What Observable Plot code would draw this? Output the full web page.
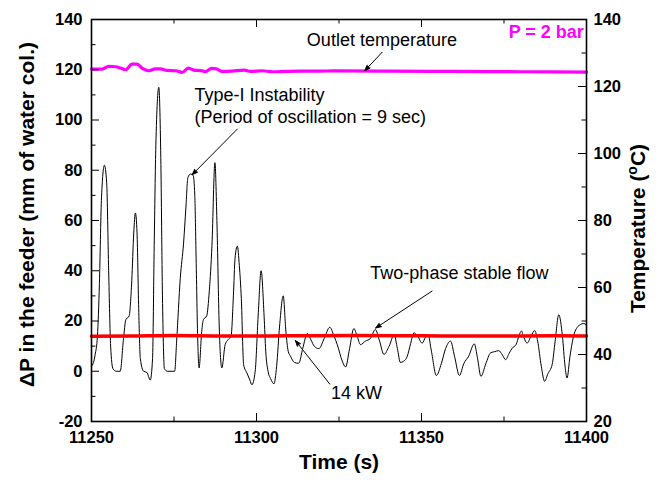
<!DOCTYPE html>
<html><head><meta charset="utf-8">
<script src="https://cdn.jsdelivr.net/npm/d3@7"></script>
<script src="https://cdn.jsdelivr.net/npm/@observablehq/plot@0.6"></script>
<style>
body{margin:0;background:#fff}
svg{font-family:"Liberation Sans",Arial,sans-serif}
</style>
</head><body><div id="chart"></div>
<script>
// ---- data ----
const time = [11250.0,11250.6,11251.1,11251.8,11252.4,11253.0,11253.9,11254.6,11255.2,11255.8,11256.5,11257.5,11258.7,11259.7,11260.4,11261.4,11262.2,11262.8,11263.3,11263.8,11264.3,11264.8,11265.8,11266.8,11267.8,11268.5,11269.0,11269.5,11270.4,11271.0,11271.5,11272.1,11273.0,11275.2,11275.8,11276.9,11277.9,11278.6,11279.2,11280.0,11280.8,11281.3,11281.7,11282.2,11282.6,11283.4,11283.9,11284.9,11285.7,11286.5,11287.4,11288.0,11288.7,11289.5,11290.5,11291.5,11292.3,11293.0,11293.5,11294.2,11294.8,11295.4,11296.1,11297.1,11298.0,11298.6,11299.6,11300.5,11301.4,11302.3,11302.8,11303.5,11304.3,11305.3,11306.1,11307.0,11308.1,11308.9,11309.6,11310.3,11311.5,11312.8,11314.0,11315.4,11316.5,11317.5,11318.9,11320.5,11322.2,11323.5,11324.5,11326.0,11327.0,11328.2,11329.5,11330.5,11331.5,11333.0,11334.5,11336.0,11337.3,11338.6,11340.2,11341.7,11342.7,11343.6,11344.6,11345.7,11346.7,11347.7,11348.8,11350.2,11351.2,11352.0,11353.0,11354.5,11356.0,11357.3,11358.8,11360.0,11361.5,11362.8,11364.3,11366.0,11367.0,11368.0,11369.5,11370.9,11372.2,11373.4,11374.5,11375.5,11376.5,11377.5,11378.7,11379.5,11380.3,11381.0,11382.0,11383.2,11384.3,11385.2,11386.3,11387.3,11388.3,11389.6,11390.5,11391.6,11392.7,11393.5,11394.1,11395.0,11396.2,11397.2,11398.2,11399.0,11400.0];
const dp = [2,3.5,6.6,14,35,68,82,75,40,10,1,0,0,13,20.5,22,36,55,63,55,25,5,0,-0.5,-3.5,5,50,90,113,85,30,1,0,0,12,37,51,65,77,78.5,78,70,45,12,1.3,15.9,20.5,22,32,50,83,60,18,1.3,10.6,12.7,14,30,45,49.8,42,29,2.6,-0.7,-3.5,-5.4,0,22,40,22,8,0,-3,-5,2,18,30,16,8,6,3.5,3.2,9,15,12.5,10,9,13,17.5,14,10.5,4,1.7,9,17,14,10.6,12,13,16.6,12,6.7,10,14.5,9,3.5,4,6,11,15.3,14,11.2,13.5,14.5,8,-1.7,3,9,12,6,-1.7,3,6,10.9,5,-2,3,7.3,7.8,8.2,6.5,4.6,7,9.2,10.7,14,16,13.5,11.2,14,16.2,12,2,-4,-1,2.7,12,22.5,14,2,-2.7,6,14.6,17.5,18.6,19,18.5];

const tempTime = [11250,11253.2,11255.2,11257.3,11258.8,11260.3,11262.3,11263.8,11265.4,11267.4,11269.4,11270.9,11272.9,11275.5,11277.5,11279.3,11281,11283.5,11284.5,11286.4,11287.8,11289.6,11292.6,11296.2,11298.2,11301.7,11304.8,11308.8,11312.8,11318.9,11323.4,11340,11360,11380,11400];
const outletTemp = [125.2,125.2,126.0,125.9,125.5,125.0,126.7,126.7,125.4,124.7,125.25,125.25,124.8,124.7,124.2,125.5,124.9,124.7,124.4,125.4,125.25,124.5,124.6,124.9,124.5,124.7,124.4,124.5,124.6,124.6,124.65,124.6,124.5,124.4,124.3];

const powerTime = [11250,11262,11275,11290,11310,11330,11350,11370,11390,11400];
const powerLine = [13.9,14.0,14.2,14.0,14.1,14.2,14.1,14.0,14.1,14.0];

const xMajor = [11250,11300,11350,11400];
const xMinor = [11275,11325,11375];
const yMajor = [-20,0,20,40,60,80,100,120,140];
const yMinor = [-10,10,30,50,70,90,110,130];
const tMajor = [20,40,60,80,100,120,140];
const tMinor = [30,50,70,90,110,130];

const labels = [
  {t:11338.0, v:131.6, text:"Outlet temperature", anchor:"middle"},
  {t:11281.2, v:109.7, text:"Type-I Instability", anchor:"start"},
  {t:11281.2, v:101.0, text:"(Period of oscillation = 9 sec)", anchor:"start"},
  {t:11334.5, v:39.2, text:"Two-phase stable flow", anchor:"start"},
  {t:11322.6, v:-8.7, text:"14 kW", anchor:"start"}
];
const pressureLabel = [{t:11399.2, v:134.9, text:"P = 2 bar"}];
const arrows = [
  {x1:11338.1, y1:127.0, x2:11332.8, y2:119.6},
  {x1:11294.2, y1:96.4, x2:11280.5, y2:78.2},
  {x1:11353.2, y1:31.9, x2:11336.1, y2:17.2},
  {x1:11322.2, y1:-5.1, x2:11311.8, y2:12.2}
];

// ---- helpers ----
const toLeft = T => -20 + (T - 20) * 160 / 120;
const fromLeft = v => 20 + (v + 20) * 120 / 160;

const W = 660, H = 483, mL = 91, mR = 74, mT = 19, mB = 62;
const fw = W - mL - mR, fh = H - mT - mB;

const dpData = time.map((t, i) => ({t, v: dp[i]}));
const tempData = tempTime.map((t, i) => ({t, v: toLeft(outletTemp[i])}));
const powerData = powerTime.map((t, i) => ({t, v: powerLine[i]}));

const tickFont = {fontSize: 16.5, fontWeight: "bold", fill: "black"};

const chart = Plot.plot({
  width: W, height: H,
  marginLeft: mL, marginRight: mR, marginTop: mT, marginBottom: mB,
  x: {domain: [11250, 11400]},
  y: {domain: [-20, 140]},
  marks: [
    Plot.line(dpData, {x: "t", y: "v", stroke: "black", strokeWidth: 1, curve: "monotone-x"}),
    Plot.line(powerData, {x: "t", y: "v", stroke: "#ff0000", strokeWidth: 3.5, curve: "monotone-x"}),
    Plot.line(tempData, {x: "t", y: "v", stroke: "#ff00ff", strokeWidth: 3.2, curve: "monotone-x"}),
    // inward ticks
    Plot.tickY(yMajor, {y: d => d, insetRight: fw - 8, stroke: "black", strokeWidth: 1}),
    Plot.tickY(yMinor, {y: d => d, insetRight: fw - 4.5, stroke: "black", strokeWidth: 1}),
    Plot.tickY(tMajor.map(toLeft), {y: d => d, insetLeft: fw - 8, stroke: "black", strokeWidth: 1}),
    Plot.tickY(tMinor.map(toLeft), {y: d => d, insetLeft: fw - 4.5, stroke: "black", strokeWidth: 1}),
    Plot.tickX(xMajor, {x: d => d, insetTop: fh - 8, stroke: "black", strokeWidth: 1}),
    Plot.tickX(xMinor, {x: d => d, insetTop: fh - 4.5, stroke: "black", strokeWidth: 1}),
    Plot.tickX(xMajor, {x: d => d, insetBottom: fh - 8, stroke: "black", strokeWidth: 1}),
    Plot.tickX(xMinor, {x: d => d, insetBottom: fh - 4.5, stroke: "black", strokeWidth: 1}),
    Plot.frame({stroke: "black", strokeWidth: 1.6}),
    // axes
    Plot.axisY({anchor: "left", ticks: yMajor, tickFormat: d => String(d), tickSize: 0, tickPadding: 9, label: null, ...tickFont}),
    Plot.axisY({anchor: "right", ticks: tMajor.map(toLeft), tickFormat: v => String(Math.round(fromLeft(v))), tickSize: 0, tickPadding: 7, label: null, ...tickFont}),
    Plot.axisX({anchor: "bottom", ticks: xMajor, tickFormat: d3.format("d"), tickSize: 0, tickPadding: 10, label: null, ...tickFont}),
    // axis titles
    Plot.text(["ΔP in the feeder (mm of water col.)"], {frameAnchor: "left", textAnchor: "middle", dx: -64, dy: -6, rotate: -90, fontSize: 21, fontWeight: "bold", fill: "black"}),
    Plot.text(["Temperature (oC)"], {frameAnchor: "right", textAnchor: "middle", dx: 52, dy: 8, rotate: -90, fontSize: 21, fontWeight: "bold", fill: "black"}),
    Plot.text(["Time (s)"], {frameAnchor: "bottom", textAnchor: "middle", dy: 47, fontSize: 21, fontWeight: "bold", fill: "black"}),
    // annotations
    Plot.text(labels.filter(d => d.anchor === "middle"), {x: "t", y: "v", text: "text", textAnchor: "middle", fontSize: 18, fill: "black"}),
    Plot.text(labels.filter(d => d.anchor === "start"), {x: "t", y: "v", text: "text", textAnchor: "start", fontSize: 18, fill: "black"}),
    Plot.text(pressureLabel, {x: "t", y: "v", text: "text", textAnchor: "end", fontSize: 18, fontWeight: "bold", fill: "#ff00ff"}),
    Plot.arrow(arrows, {x1: "x1", y1: "y1", x2: "x2", y2: "y2", stroke: "black", strokeWidth: 1, headLength: 9, headAngle: 40, fill: "black"})
  ]
});
document.getElementById("chart").appendChild(chart);

// superscript degree marker in the temperature title
d3.select(chart).selectAll("text").each(function() {
  if (this.textContent === "Temperature (oC)") {
    const el = d3.select(this);
    el.text(null);
    el.append("tspan").text("Temperature (");
    el.append("tspan").attr("dy", -8).attr("font-size", 14).text("o");
    el.append("tspan").attr("dy", 8).text("C)");
  }
});
</script>
</body></html>
